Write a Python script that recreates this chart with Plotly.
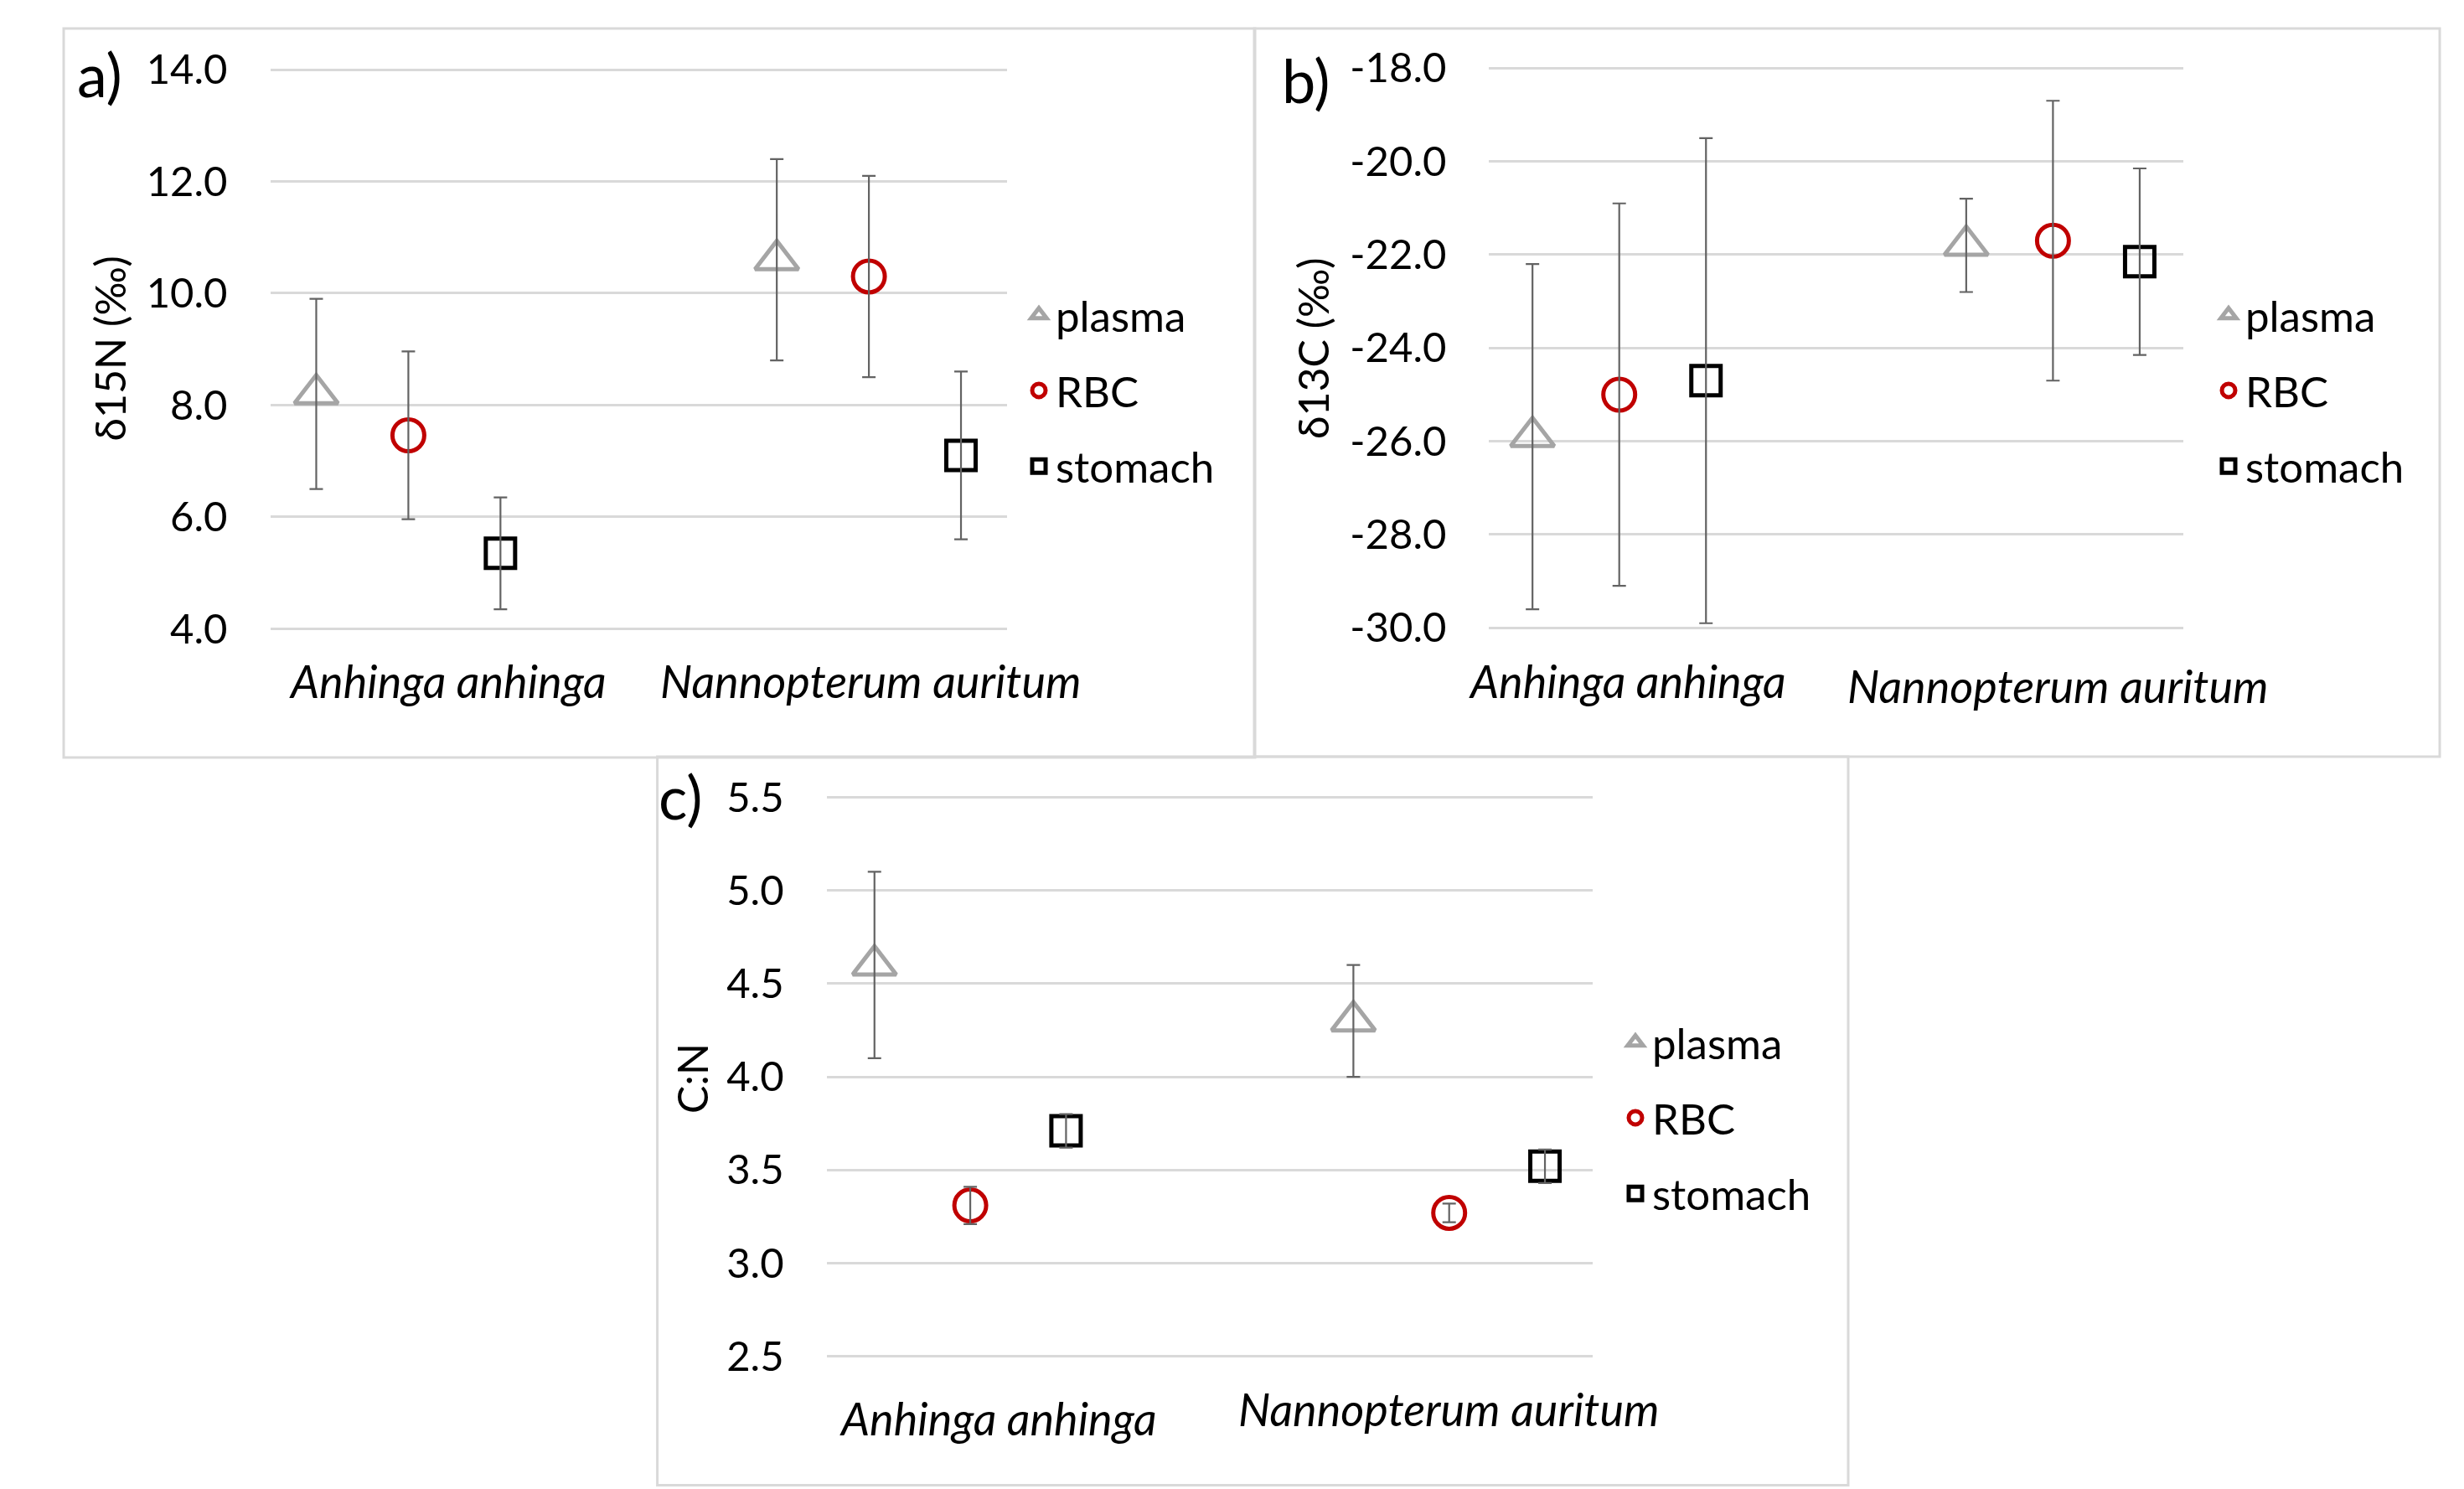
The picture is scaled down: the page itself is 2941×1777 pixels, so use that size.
import plotly.graph_objects as go

# ---------------- data ----------------
categories = ["Anhinga anhinga", "Nannopterum auritum"]
tissues = ["plasma", "RBC", "stomach"]

# panel a: δ15N (‰)  mean and SD per category
n15_plasma = [8.2, 10.6]
n15_plasma_sd = [1.7, 1.8]
n15_rbc = [7.46, 10.3]
n15_rbc_sd = [1.5, 1.8]
n15_stomach = [5.35, 7.1]
n15_stomach_sd = [1.0, 1.5]

# panel b: δ13C (‰)
c13_plasma = [-25.9, -21.8]
c13_plasma_sd = [3.7, 1.0]
c13_rbc = [-25.0, -21.7]
c13_rbc_sd = [4.1, 3.0]
c13_stomach = [-24.7, -22.15]
c13_stomach_sd = [5.2, 2.0]

# panel c: C:N
cn_plasma = [4.6, 4.3]
cn_plasma_sd = [0.5, 0.3]
cn_rbc = [3.31, 3.27]
cn_rbc_sd = [0.1, 0.05]
cn_stomach = [3.71, 3.52]
cn_stomach_sd = [0.09, 0.09]

# tick labels
ticks_a = [4, 6, 8, 10, 12, 14]
ticktext_a = ["4.0", "6.0", "8.0", "10.0", "12.0", "14.0"]
ticks_b = [-30, -28, -26, -24, -22, -20, -18]
ticktext_b = ["-30.0", "-28.0", "-26.0", "-24.0", "-22.0", "-20.0", "-18.0"]
ticks_c = [2.5, 3.0, 3.5, 4.0, 4.5, 5.0, 5.5]
ticktext_c = ["2.5", "3.0", "3.5", "4.0", "4.5", "5.0", "5.5"]

# ---------------- layout helpers ----------------
W, H = 2941, 1777
FONT = "Lato"


def px(x):
    return x / W


def py(y):
    return 1 - y / H


def padded(lo, hi, top_px, bot_px, pad=4):
    """y-range and domain expanded by a few pixels so edge gridlines are drawn."""
    per_px = (hi - lo) / (bot_px - top_px)
    rng = [lo - pad * per_px, hi + pad * per_px]
    dom = [py(bot_px + pad), py(top_px - pad)]
    return rng, dom


styles = {
    "plasma": dict(symbol="triangle-up-open", color="#a5a5a5", size=45),
    "RBC": dict(symbol="circle-open", color="#c00000", size=38),
    "stomach": dict(symbol="square-open", color="#000000", size=35),
}
ERR_COLOR = "#636363"

panels = [
    dict(key="a", xa="x", ya="y", legend="legend",
         series=[(n15_plasma, n15_plasma_sd), (n15_rbc, n15_rbc_sd), (n15_stomach, n15_stomach_sd)]),
    dict(key="b", xa="x2", ya="y2", legend="legend2",
         series=[(c13_plasma, c13_plasma_sd), (c13_rbc, c13_rbc_sd), (c13_stomach, c13_stomach_sd)]),
    dict(key="c", xa="x3", ya="y3", legend="legend3",
         series=[(cn_plasma, cn_plasma_sd), (cn_rbc, cn_rbc_sd), (cn_stomach, cn_stomach_sd)]),
]

fig = go.Figure()


# Excel-like slots: 8 category slots, group 1 at slots 0-2, group 2 at slots 5-7
def slot_x(ci, ti):
    return ci * 5 + ti + 0.5


for p in panels:
    # markers
    for ti, (tissue, (vals, sds)) in enumerate(zip(tissues, p["series"])):
        st = styles[tissue]
        fig.add_trace(go.Scatter(
            x=[slot_x(ci, ti) for ci in range(len(categories))],
            y=vals,
            mode="markers",
            name=tissue,
            legendgroup=p["key"] + tissue,
            legend=p["legend"],
            marker=dict(symbol=st["symbol"], color=st["color"], size=st["size"],
                        line=dict(width=5, color=st["color"])),
            xaxis=p["xa"], yaxis=p["ya"],
            hovertext=categories,
        ))
    # error bars drawn on top of markers
    for ti, (tissue, (vals, sds)) in enumerate(zip(tissues, p["series"])):
        fig.add_trace(go.Scatter(
            x=[slot_x(ci, ti) for ci in range(len(categories))],
            y=vals,
            mode="markers",
            showlegend=False,
            marker=dict(size=1, color="rgba(0,0,0,0)"),
            error_y=dict(type="data", array=sds, color=ERR_COLOR, thickness=2.2, width=8),
            xaxis=p["xa"], yaxis=p["ya"],
            hoverinfo="skip",
        ))

xaxis_common = dict(range=[0, 8], showgrid=False, zeroline=False, showline=False,
                    showticklabels=False, ticks="", fixedrange=True, automargin=False)
yaxis_common = dict(showgrid=True, gridcolor="#d9d9d9", gridwidth=2.5, zeroline=False,
                    showline=False, ticks="", ticklabelstandoff=50, automargin=False,
                    tickfont=dict(family=FONT, size=49, color="#000000"), fixedrange=True)

legend_common = dict(font=dict(family=FONT, size=51, color="#000000"),
                     bgcolor="rgba(0,0,0,0)", borderwidth=0, tracegroupgap=21,
                     xanchor="left", yanchor="middle", itemclick=False, itemdoubleclick=False)

rng_a, dom_a = padded(4, 14, 83, 750.4)
rng_b, dom_b = padded(-30, -18, 81.3, 749.3)
rng_c, dom_c = padded(2.5, 5.5, 951.5, 1618.7)

fig.update_layout(
    width=W, height=H,
    margin=dict(l=0, r=0, t=0, b=0, pad=0, autoexpand=False),
    paper_bgcolor="white", plot_bgcolor="white",
    font=dict(family=FONT, color="#000000"),
    xaxis=dict(domain=[px(322.5), px(1202)], anchor="y", **xaxis_common),
    yaxis=dict(domain=dom_a, anchor="x", range=rng_a,
               tickvals=ticks_a, ticktext=ticktext_a, **yaxis_common),
    xaxis2=dict(domain=[px(1777.4), px(2605.7)], anchor="y2", **xaxis_common),
    yaxis2=dict(domain=dom_b, anchor="x2", range=rng_b,
                tickvals=ticks_b, ticktext=ticktext_b, **yaxis_common),
    xaxis3=dict(domain=[px(986.6), px(1901.2)], anchor="y3", **xaxis_common),
    yaxis3=dict(domain=dom_c, anchor="x3", range=rng_c,
                tickvals=ticks_c, ticktext=ticktext_c, **yaxis_common),
    legend=dict(x=px(1220), y=py(466), **legend_common),
    legend2=dict(x=px(2640), y=py(466), **legend_common),
    legend3=dict(x=px(1932), y=py(1334), **legend_common),
    showlegend=True,
)

# panel borders
for (x0, y0, x1, y1) in [(76, 34, 1498, 904), (1497, 34, 2912, 903), (784.6, 903, 2206, 1772.5)]:
    fig.add_shape(type="rect", xref="paper", yref="paper",
                  x0=px(x0), x1=px(x1), y0=py(y1), y1=py(y0),
                  line=dict(color="#d9d9d9", width=3), fillcolor="rgba(0,0,0,0)", layer="below")

annotations = []
# panel letters
for txt, x, y in [("a)", 90, 88), ("b)", 1528, 95), ("c)", 784, 950)]:
    annotations.append(dict(text=txt, xref="paper", yref="paper", x=px(x), y=py(y),
                            xanchor="left", yanchor="middle", showarrow=False,
                            font=dict(family=FONT, size=72, color="#000000")))
# y-axis titles
for txt, x, y in [("δ15N (‰)", 130, 416.5), ("δ13C (‰)", 1567, 416), ("C:N", 826, 1287)]:
    annotations.append(dict(text=txt, xref="paper", yref="paper", x=px(x), y=py(y),
                            xanchor="center", yanchor="middle", textangle=-90, showarrow=False,
                            font=dict(family=FONT, size=50, color="#000000")))
# category labels (positions per panel)
cat_label_pos = {
    "x": [(1.93, 812), (6.52, 812)],
    "x2": [(1.59, 812), (6.56, 818)],
    "x3": [(1.79, 1692), (6.50, 1681)],
}
for xa, poslist in cat_label_pos.items():
    for cat, (xv, yv) in zip(categories, poslist):
        annotations.append(dict(text=cat, xref=xa, yref="paper", x=xv, y=py(yv),
                                xanchor="center", yanchor="middle", showarrow=False,
                                font=dict(family=FONT, size=54, color="#000000", style="italic")))
fig.update_layout(annotations=annotations)

fig.write_html(
    "out.html",
    config={"displayModeBar": False},
    post_script="document.body.style.margin='0px';document.body.style.overflow='hidden';",
)
